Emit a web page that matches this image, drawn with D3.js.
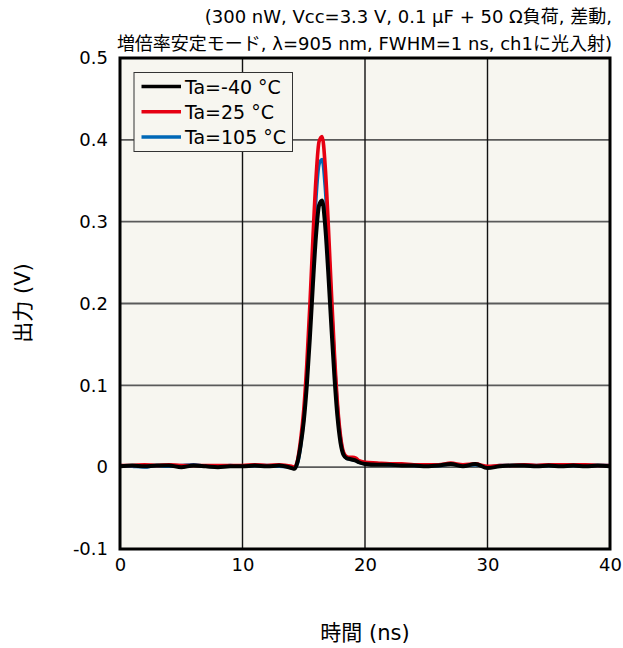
<!DOCTYPE html>
<html>
<head>
<meta charset="utf-8">
<script src="https://cdn.jsdelivr.net/npm/d3@7"></script>
<style>
  html, body { margin: 0; padding: 0; background: #ffffff; }
  svg { display: block; }
  text { font-family: "DejaVu Sans", "Noto Sans CJK JP", sans-serif; fill: #000; }
</style>
</head>
<body>
<svg id="chart" width="623" height="648"></svg>
<script>
// ---- data ----
const titleLines = [
  "(300 nW, Vcc=3.3 V, 0.1 µF + 50 Ω負荷, 差動,",
  "増倍率安定モード, λ=905 nm, FWHM=1 ns, ch1に光入射)"
];
const xLabel = "時間 (ns)";
const yLabel = "出力 (V)";
const xTicks = [0, 10, 20, 30, 40];
const yTicks = [-0.1, 0, 0.1, 0.2, 0.3, 0.4, 0.5];
const yTickLabels = ["-0.1", "0", "0.1", "0.2", "0.3", "0.4", "0.5"];
const seriesNames = ["Ta=-40 °C", "Ta=25 °C", "Ta=105 °C"];
const seriesColors = ["#000000", "#e60012", "#0068b7"];

const time = [0,1,2,3,4,5,6,7,8,9,10,11,12,13,14,
  14.25,14.5,14.75,15,15.25,15.5,15.75,16,16.25,16.5,16.75,17,17.25,17.5,17.75,18,18.25,18.5,18.75,19,19.25,19.5,
  20,21,22,23,24,25,26,27,28,29,30,31,32,33,34,35,36,37,38,39,40];

const vMinus40 = [0.001,0.002,0.001,0.002,0.002,0.000,0.002,0.001,0.000,0.001,0.001,0.002,0.001,0.002,-0.001,
  -0.002,0.007,0.027,0.056,0.100,0.158,0.224,0.283,0.320,0.326,0.295,0.238,0.173,0.112,0.062,0.030,0.015,0.011,0.010,0.009,0.008,0.006,
  0.004,0.003,0.003,0.002,0.002,0.001,0.002,0.004,0.001,0.004,-0.001,0.001,0.002,0.002,0.001,0.002,0.001,0.002,0.001,0.002,0.001];

const v25 = [0.002,0.002,0.003,0.002,0.003,0.002,0.002,0.002,0.002,0.002,0.002,0.003,0.002,0.003,0.001,
  0.000,0.009,0.034,0.070,0.126,0.198,0.280,0.353,0.398,0.404,0.368,0.297,0.216,0.140,0.078,0.038,0.018,0.013,0.012,0.012,0.011,0.008,
  0.006,0.005,0.004,0.004,0.003,0.003,0.003,0.005,0.003,0.004,0.001,0.002,0.002,0.003,0.002,0.003,0.003,0.003,0.003,0.002,0.002];

const v105 = [0.002,0.001,0.000,0.002,0.001,0.002,0.003,0.001,0.001,0.002,0.001,0.002,0.002,0.001,0.000,
  -0.001,0.005,0.026,0.060,0.112,0.178,0.258,0.328,0.370,0.376,0.342,0.277,0.202,0.132,0.074,0.036,0.016,0.011,0.010,0.009,0.008,0.006,
  0.004,0.004,0.003,0.003,0.002,0.002,0.002,0.004,0.002,0.003,0.000,0.002,0.002,0.003,0.002,0.002,0.002,0.002,0.002,0.002,0.002];

const seriesValues = [vMinus40, v25, v105];

// ---- layout ----
const svg = d3.select("#chart");
const plot = { left: 120, right: 610, top: 58, bottom: 549 };

const x = d3.scaleLinear().domain([0, 40]).range([plot.left, plot.right]);
const y = d3.scaleLinear().domain([-0.1, 0.5]).range([plot.bottom, plot.top]);

// background
svg.append("rect")
  .attr("x", plot.left).attr("y", plot.top)
  .attr("width", plot.right - plot.left).attr("height", plot.bottom - plot.top)
  .attr("fill", "#f7f6f0");

// horizontal grid
svg.append("g").selectAll("line")
  .data(yTicks.filter(d => d > -0.1 && d < 0.5))
  .join("line")
  .attr("x1", plot.left).attr("x2", plot.right)
  .attr("y1", d => y(d)).attr("y2", d => y(d))
  .attr("stroke", "#5a5a5a").attr("stroke-width", 1.8);

// vertical grid
svg.append("g").selectAll("line")
  .data(xTicks.filter(d => d > 0 && d < 40))
  .join("line")
  .attr("x1", d => x(d)).attr("x2", d => x(d))
  .attr("y1", plot.top).attr("y2", plot.bottom)
  .attr("stroke", "#111").attr("stroke-width", 1.4);

// series lines
const line = d3.line()
  .x((d, i) => x(time[i]))
  .y(d => y(d))
  .curve(d3.curveMonotoneX);

const drawOrder = [2, 1, 0];
const widths = [4, 3.6, 3.4];
drawOrder.forEach(k => {
  svg.append("path")
    .datum(seriesValues[k])
    .attr("d", line)
    .attr("fill", "none")
    .attr("stroke", seriesColors[k])
    .attr("stroke-width", widths[k])
    .attr("stroke-linejoin", "round");
});

// border
svg.append("rect")
  .attr("x", plot.left).attr("y", plot.top)
  .attr("width", plot.right - plot.left).attr("height", plot.bottom - plot.top)
  .attr("fill", "none").attr("stroke", "#000").attr("stroke-width", 3);

// axes (labels only)
const xAxis = d3.axisBottom(x).tickValues(xTicks).tickSize(0).tickPadding(9).tickFormat(d3.format("d"));
svg.append("g")
  .attr("transform", `translate(0,${plot.bottom})`)
  .call(xAxis)
  .call(g => g.select(".domain").remove())
  .selectAll("text")
  .style("font-size", "18px")
  .attr("font-family", null);

const yAxis = d3.axisLeft(y).tickValues(yTicks).tickSize(0).tickPadding(12)
  .tickFormat((d, i) => yTickLabels[i]);
svg.append("g")
  .attr("transform", `translate(${plot.left},0)`)
  .call(yAxis)
  .call(g => g.select(".domain").remove())
  .selectAll("text")
  .style("font-size", "18px")
  .attr("font-family", null);

// title
svg.append("text")
  .attr("x", 612).attr("y", 23)
  .attr("text-anchor", "end")
  .style("font-size", "18px")
  .text(titleLines[0]);
svg.append("text")
  .attr("x", 612).attr("y", 50)
  .attr("text-anchor", "end")
  .style("font-size", "18px")
  .text(titleLines[1]);

// axis titles
svg.append("text")
  .attr("x", 365).attr("y", 640)
  .attr("text-anchor", "middle")
  .style("font-size", "21px")
  .text(xLabel);
svg.append("text")
  .attr("transform", "translate(30,303) rotate(-90)")
  .attr("text-anchor", "middle")
  .style("font-size", "21px")
  .text(yLabel);

// legend
const lg = svg.append("g");
lg.append("rect")
  .attr("x", 134).attr("y", 72.5).attr("width", 158.5).attr("height", 79)
  .attr("fill", "#f7f6f0").attr("stroke", "#333").attr("stroke-width", 1);
seriesNames.forEach((name, i) => {
  const cy = 86.5 + i * 25.3;
  lg.append("line")
    .attr("x1", 141.5).attr("x2", 181).attr("y1", cy).attr("y2", cy)
    .attr("stroke", seriesColors[i]).attr("stroke-width", 3.5);
  lg.append("text")
    .attr("x", 185).attr("y", cy + 7)
    .style("font-size", "19px")
    .text(name);
});
</script>
</body>
</html>
